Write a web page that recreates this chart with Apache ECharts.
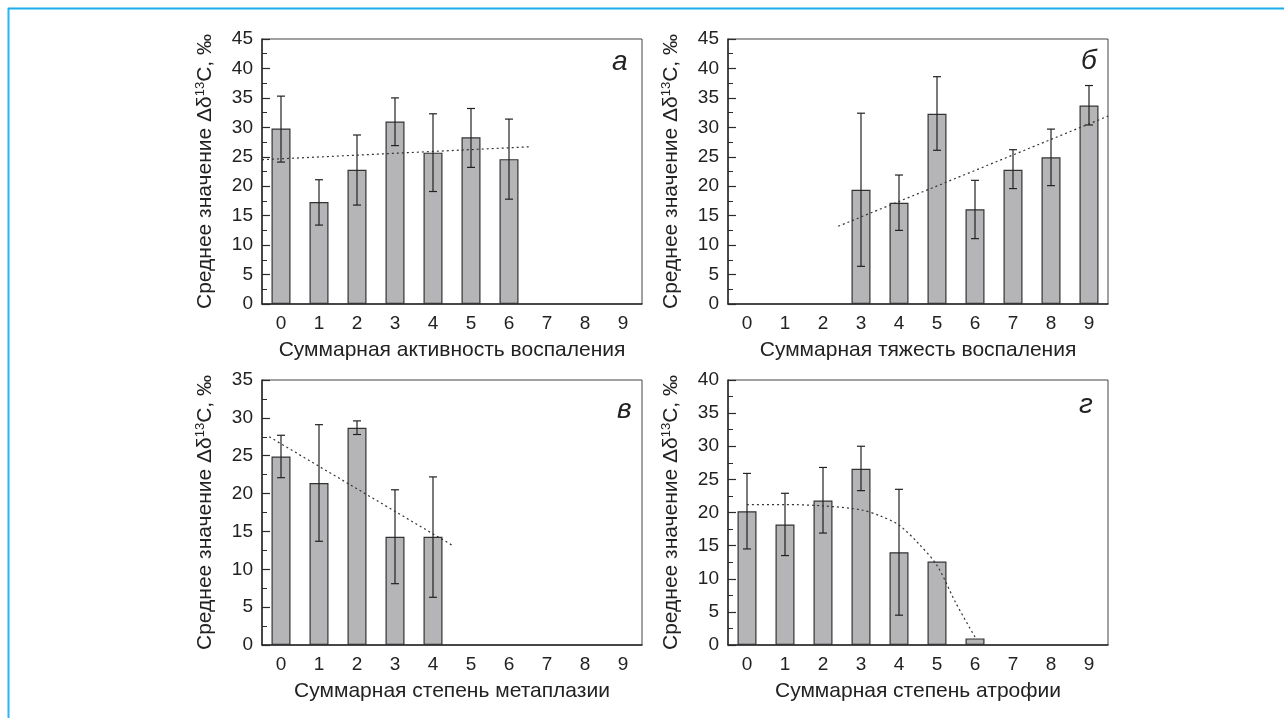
<!DOCTYPE html>
<html>
<head>
<meta charset="utf-8">
<script src="https://cdn.jsdelivr.net/npm/echarts@6/dist/echarts.min.js"></script>
<style>
html,body{margin:0;padding:0;background:#fff;}
#chart{width:1284px;height:718px;}
</style>
</head>
<body>
<div id="chart"></div>
<script>
const categories = ['0','1','2','3','4','5','6','7','8','9'];

const meanA = [29.8, 17.3, 22.8, 31.0, 25.7, 28.3, 24.6, null, null, null];
const lowA  = [24.1, 13.4, 16.8, 26.9, 19.1, 23.2, 17.8, null, null, null];
const highA = [35.3, 21.1, 28.7, 35.0, 32.3, 33.2, 31.4, null, null, null];
const trendA = [[-0.5, 24.5], [6.55, 26.7]];

const meanB = [null, null, null, 19.4, 17.2, 32.3, 16.1, 22.8, 24.9, 33.7];
const lowB  = [null, null, null, 6.4, 12.5, 26.1, 11.1, 19.6, 20.1, 30.4];
const highB = [null, null, null, 32.4, 21.9, 38.6, 21.0, 26.2, 29.7, 37.1];
const trendB = [[2.4, 13.2], [9.5, 31.9]];

const meanC = [24.9, 21.4, 28.7, 14.3, 14.3, null, null, null, null, null];
const lowC  = [22.1, 13.7, 27.8, 8.1, 6.3, null, null, null, null, null];
const highC = [27.7, 29.1, 29.6, 20.5, 22.2, null, null, null, null, null];
const trendC = [[-0.31, 27.5], [4.53, 13.1]];

const meanD = [20.2, 18.2, 21.8, 26.6, 14.0, 12.6, 1.0, null, null, null];
const lowD  = [14.5, 13.5, 16.9, 23.3, 4.5, null, null, null, null, null];
const highD = [25.9, 22.9, 26.8, 30.0, 23.5, null, null, null, null, null];
const trendD = [[0, 21.2], [1, 21.2], [2, 21.0], [3, 20.4], [3.5, 19.5], [4, 18.1], [4.5, 15.4], [5, 12.0], [5.5, 6.3], [6, 1.2]];

const yMax = [45, 45, 35, 40];
const xNames = ['Суммарная активность воспаления', 'Суммарная тяжесть воспаления',
                'Суммарная степень метаплазии', 'Суммарная степень атрофии'];
const panelLetters = ['а', 'б', 'в', 'г'];

const panels = [
  {mean: meanA, low: lowA, high: highA, trend: trendA, smooth: false},
  {mean: meanB, low: lowB, high: highB, trend: trendB, smooth: false},
  {mean: meanC, low: lowC, high: highC, trend: trendC, smooth: false},
  {mean: meanD, low: lowD, high: highD, trend: trendD, smooth: 0.3}
];

const gridPos = [
  {left: 262, top: 39, width: 380, height: 265},
  {left: 728, top: 39, width: 380, height: 265},
  {left: 262, top: 380, width: 380, height: 265},
  {left: 728, top: 380, width: 380, height: 265}
];
const letterPos = [[612, 48], [1081, 47], [617, 396], [1079, 391]];

const FONT = '"Liberation Sans", Arial, sans-serif';
const AX = '#2a2a2a';

const grid = [], xAxis = [], yAxis = [], series = [];
const graphic = [
  {type: 'line', shape: {x1: 8.5, y1: 8, x2: 8.5, y2: 718}, style: {stroke: '#29b6f6', lineWidth: 2}},
  {type: 'line', shape: {x1: 8, y1: 8.5, x2: 1284, y2: 8.5}, style: {stroke: '#1aaee8', lineWidth: 2}}
];

panels.forEach((p, i) => {
  const g = gridPos[i];
  grid.push(Object.assign({show: true, borderColor: '#444', borderWidth: 1, backgroundColor: 'transparent'}, g));
  xAxis.push({
    type: 'category', gridIndex: i, data: categories,
    axisLine: {onZero: false, lineStyle: {color: AX, width: 1.5}},
    axisTick: {inside: true, alignWithLabel: true, length: 8, lineStyle: {color: AX, width: 1.5}},
    axisLabel: {color: '#222', fontSize: 19, fontFamily: FONT, margin: 10},
    name: xNames[i], nameLocation: 'middle', nameGap: 36,
    nameTextStyle: {color: '#222', fontSize: 21, fontFamily: FONT},
    splitLine: {show: false}
  });
  xAxis.push({
    type: 'value', gridIndex: i, min: -0.5, max: 9.5, show: false
  });
  yAxis.push({
    type: 'value', gridIndex: i, min: 0, max: yMax[i], interval: 5,
    axisLine: {show: true, onZero: false, lineStyle: {color: AX, width: 1.5}},
    axisTick: {show: true, inside: true, length: 8, lineStyle: {color: AX, width: 1.2}},
    minorTick: {show: true, splitNumber: 2, length: 5, lineStyle: {color: AX, width: 1}},
    axisLabel: {color: '#222', fontSize: 19, fontFamily: FONT, margin: 9},
    splitLine: {show: false},
    name: '{a|Среднее значение Δδ}{s|13}{a|C, ‰}',
    nameLocation: 'middle', nameGap: 45, nameRotate: 90,
    nameTextStyle: {
      color: '#222', fontFamily: FONT, fontSize: 21,
      rich: {
        a: {fontSize: 21, fontFamily: FONT, color: '#222'},
        s: {fontSize: 13, fontFamily: FONT, color: '#222', padding: [0, 0, 10, 0]}
      }
    }
  });
  series.push({
    type: 'bar', xAxisIndex: 2 * i, yAxisIndex: i, data: p.mean,
    barWidth: '50%',
    itemStyle: {color: '#b5b5b8', borderColor: '#333', borderWidth: 1.2},
    silent: true
  });
  const errData = [];
  p.mean.forEach((m, k) => {
    if (p.low[k] != null && p.high[k] != null) errData.push([k, p.low[k], p.high[k]]);
  });
  series.push({
    type: 'custom', xAxisIndex: 2 * i, yAxisIndex: i, data: errData, silent: true, z: 5,
    renderItem: function (params, api) {
      const x = api.value(0);
      const lo = api.coord([x, api.value(1)]);
      const hi = api.coord([x, api.value(2)]);
      const hw = 4;
      const st = {stroke: '#222', lineWidth: 1.2};
      return {
        type: 'group',
        children: [
          {type: 'line', shape: {x1: lo[0], y1: lo[1], x2: hi[0], y2: hi[1]}, style: st},
          {type: 'line', shape: {x1: lo[0] - hw, y1: lo[1], x2: lo[0] + hw, y2: lo[1]}, style: st},
          {type: 'line', shape: {x1: hi[0] - hw, y1: hi[1], x2: hi[0] + hw, y2: hi[1]}, style: st}
        ]
      };
    }
  });
  series.push({
    type: 'line', xAxisIndex: 2 * i + 1, yAxisIndex: i, data: p.trend,
    smooth: p.smooth, symbol: 'none', silent: true, z: 6,
    lineStyle: {color: '#333', width: 1.2, type: [2, 3]}
  });
  graphic.push({
    type: 'text', x: letterPos[i][0], y: letterPos[i][1],
    style: {text: panelLetters[i], fontSize: 28, fontStyle: 'italic', fontFamily: FONT, fill: '#222'}
  });
});

const chart = echarts.init(document.getElementById('chart'));
chart.setOption({
  animation: false,
  backgroundColor: '#fff',
  grid: grid, xAxis: xAxis, yAxis: yAxis, series: series, graphic: graphic
});
</script>
</body>
</html>
